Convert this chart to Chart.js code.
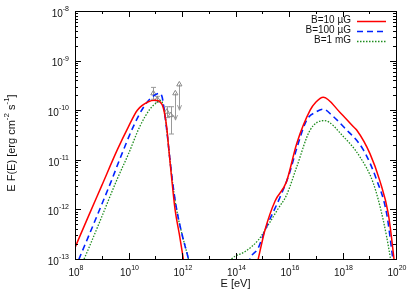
<!DOCTYPE html>
<html>
<head>
<meta charset="utf-8">
<script src="https://cdn.jsdelivr.net/npm/chart.js@4"></script>
<style>
  html, body { margin: 0; padding: 0; background: #fff; }
</style>
</head>
<body>
<canvas id="sedChart" width="415" height="290"></canvas>
<script>
// log10(E / eV) and log10(E F(E) / erg cm^-2 s^-1)
const redLowE = [8.0, 8.5, 9.0, 9.58, 10.0, 10.33, 10.74, 11.0, 11.18, 11.3, 11.43, 11.5, 11.6, 11.74, 11.9, 12.05, 12.2];
const redLowF = [-12.77, -12.14, -11.52, -10.8, -10.33, -10.0, -9.83, -9.8, -9.83, -9.95, -10.35, -10.75, -11.3, -12.0, -12.5, -13.0, -13.5];
const redHighE = [14.6, 14.85, 15.1, 15.48, 15.9, 16.29, 16.79, 17.0, 17.28, 17.9, 18.4, 18.53, 19.03, 19.4, 19.71, 19.9, 20.0];
const redHighF = [-13.6, -13.0, -12.42, -11.83, -11.45, -10.67, -10.0, -9.84, -9.74, -10.04, -10.33, -10.4, -10.88, -11.43, -12.08, -12.88, -13.4];

const blueLowE = [8.0, 8.15, 8.5, 9.0, 9.37, 9.68, 10.18, 10.55, 10.85, 11.15, 11.25, 11.35, 11.45, 11.55, 11.66, 11.8, 12.0, 12.24, 12.4];
const blueLowF = [-13.2, -13.0, -12.55, -11.9, -11.41, -10.98, -10.33, -9.95, -9.75, -9.66, -9.72, -10.05, -10.5, -11.0, -11.5, -12.0, -12.5, -13.0, -13.4];
const blueHighE = [14.3, 14.54, 14.85, 15.1, 15.66, 16.0, 16.3, 16.66, 17.0, 17.28, 17.6, 18.03, 18.78, 19.28, 19.65, 19.87, 20.0];
const blueHighF = [-13.5, -13.0, -12.78, -12.42, -11.76, -11.3, -10.75, -10.2, -10.04, -9.98, -10.1, -10.33, -10.8, -11.41, -12.08, -12.95, -13.5];

const greenLowE = [8.0, 8.34, 8.5, 9.0, 9.56, 10.0, 10.43, 10.8, 11.05, 11.2, 11.32, 11.4, 11.5, 11.6, 11.72, 11.85, 12.0, 12.24, 12.4];
const greenLowF = [-13.45, -13.0, -12.8, -12.15, -11.41, -10.88, -10.32, -9.98, -9.85, -9.8, -9.95, -10.25, -10.75, -11.25, -11.75, -12.15, -12.5, -13.0, -13.4];
const greenHighE = [13.6, 13.85, 14.36, 14.85, 15.1, 15.6, 15.91, 16.29, 16.79, 17.32, 18.03, 18.65, 19.15, 19.52, 19.78, 19.9];
const greenHighF = [-13.2, -13.0, -12.85, -12.62, -12.42, -11.98, -11.71, -11.14, -10.4, -10.21, -10.53, -10.94, -11.47, -12.21, -12.95, -13.4];

// measured points (gray triangles with error bars)
const obsE = [10.93, 11.08, 11.43, 11.58];
const obsF = [-9.66, -9.78, -10.03, -10.1];
const obsLo = [-9.78, -9.84, -10.15, -10.48];
const obsHi = [-9.54, -9.72, -9.93, -9.93];
// upper limits (arrows pointing down)
const ulE = [11.75, 11.9];
const ulF = [-9.66, -9.48];
const ulArrowTo = [-10.2, -10.0];

const seriesLabels = ["B=10 µG", "B=100 µG", "B=1 mG"];
const xDecades = [8, 9, 10, 11, 12, 13, 14, 15, 16, 17, 18, 19, 20];
const xLabelDecades = [8, 10, 12, 14, 16, 18, 20];
const yDecades = [-13, -12, -11, -10, -9, -8];

const FONT = "'Liberation Sans', Arial, sans-serif";

function toPoints(es, fs) {
  return es.map((e, i) => ({ x: 10 ** e, y: 10 ** fs[i] }));
}
const gap = { x: 1e13, y: null };

const curveStyle = [
  { color: "#ff0000", width: 1.5, dash: [] },
  { color: "#0022ff", width: 1.6, dash: [6, 4] },
  { color: "#1e8c1e", width: 1.3, dash: [1.5, 1.5] },
];

function curve(i, lowE, lowF, highE, highF) {
  return {
    label: seriesLabels[i],
    data: [...toPoints(lowE, lowF), gap, ...toPoints(highE, highF)],
    borderColor: curveStyle[i].color,
    borderWidth: curveStyle[i].width,
    borderDash: curveStyle[i].dash,
    pointRadius: 0,
    fill: false,
    spanGaps: false,
    cubicInterpolationMode: "monotone",
  };
}

function drawPow(ctx, exp, x, y, align) {
  ctx.font = "10px " + FONT;
  const wb = ctx.measureText("10").width;
  ctx.font = "7px " + FONT;
  const we = ctx.measureText(String(exp)).width;
  const total = wb + we;
  let x0 = align === "right" ? x - total : x - total / 2;
  ctx.textAlign = "left";
  ctx.textBaseline = "middle";
  ctx.font = "10px " + FONT;
  ctx.fillText("10", x0, y);
  ctx.font = "7px " + FONT;
  ctx.fillText(String(exp), x0 + wb, y - 5);
}

const errorBars = {
  id: "errorBars",
  beforeDatasetsDraw(chart) {
    const { ctx, scales } = chart;
    ctx.save();
    ctx.strokeStyle = "#999";
    ctx.lineWidth = 1;
    obsE.forEach((e, i) => {
      const px = Math.round(scales.x.getPixelForValue(10 ** e)) + 0.5;
      const top = scales.y.getPixelForValue(10 ** obsHi[i]);
      const bot = scales.y.getPixelForValue(10 ** obsLo[i]);
      ctx.beginPath();
      ctx.moveTo(px, top); ctx.lineTo(px, bot);
      ctx.moveTo(px - 2.5, top); ctx.lineTo(px + 2.5, top);
      ctx.moveTo(px - 2.5, bot); ctx.lineTo(px + 2.5, bot);
      ctx.stroke();
    });
    ulE.forEach((e, i) => {
      const px = Math.round(scales.x.getPixelForValue(10 ** e)) + 0.5;
      const top = scales.y.getPixelForValue(10 ** ulF[i]);
      const bot = scales.y.getPixelForValue(10 ** ulArrowTo[i]);
      ctx.beginPath();
      ctx.moveTo(px, top); ctx.lineTo(px, bot);
      ctx.moveTo(px - 2, bot - 5); ctx.lineTo(px, bot); ctx.lineTo(px + 2, bot - 5);
      ctx.stroke();
    });
    ctx.restore();
  },
};

const gnuplotAxes = {
  id: "gnuplotAxes",
  afterDraw(chart) {
    const { ctx, chartArea: a, scales } = chart;
    const xs = scales.x;
    const ys = scales.y;
    ctx.save();
    ctx.strokeStyle = "#000";
    ctx.lineWidth = 1;
    ctx.beginPath();
    xDecades.forEach((d) => {
      const px = Math.round(xs.getPixelForValue(10 ** d)) + 0.5;
      const len = d % 2 === 0 ? 6 : 3;
      ctx.moveTo(px, a.bottom); ctx.lineTo(px, a.bottom - len);
      ctx.moveTo(px, a.top); ctx.lineTo(px, a.top + len);
    });
    yDecades.forEach((d) => {
      for (let m = 1; m <= 9; m++) {
        const v = m * 10 ** d;
        if (v > 1e-8 * 1.0001) break;
        const py = Math.round(ys.getPixelForValue(v)) + 0.5;
        const len = m === 1 ? 6 : 3;
        ctx.moveTo(a.left, py); ctx.lineTo(a.left + len, py);
        ctx.moveTo(a.right, py); ctx.lineTo(a.right - len, py);
      }
    });
    ctx.stroke();
    ctx.strokeRect(Math.round(a.left) + 0.5, Math.round(a.top) + 0.5, Math.round(a.right - a.left), Math.round(a.bottom - a.top));

    ctx.fillStyle = "#111";
    yDecades.forEach((d) => {
      const py = ys.getPixelForValue(10 ** d);
      drawPow(ctx, d, a.left - 6, py + 3, "right");
    });
    xLabelDecades.forEach((d) => {
      const px = xs.getPixelForValue(10 ** d);
      drawPow(ctx, d, px + 1, a.bottom + 14, "center");
    });

    // axis titles
    ctx.font = "11px " + FONT;
    ctx.textAlign = "center";
    ctx.textBaseline = "middle";
    ctx.fillText("E [eV]", (a.left + a.right) / 2, 284);

    const parts = [["E F(E) [erg cm", false], ["-2", true], [" s", false], ["-1", true], ["]", false]];
    let total = 0;
    parts.forEach((p) => {
      ctx.font = (p[1] ? "8px " : "11px ") + FONT;
      total += ctx.measureText(p[0]).width;
    });
    ctx.save();
    ctx.translate(12, 143);
    ctx.rotate(-Math.PI / 2);
    ctx.textAlign = "left";
    let cx = -total / 2;
    parts.forEach((p) => {
      ctx.font = (p[1] ? "8px " : "11px ") + FONT;
      ctx.fillText(p[0], cx, p[1] ? -5 : 0);
      cx += ctx.measureText(p[0]).width;
    });
    ctx.restore();

    // legend, gnuplot style: text right aligned, sample line to the right
    ctx.font = "10px " + FONT;
    ctx.textAlign = "right";
    seriesLabels.forEach((label, i) => {
      const y = 20.5 + i * 10;
      ctx.fillStyle = "#111";
      ctx.fillText(label, 351, y);
      ctx.strokeStyle = curveStyle[i].color;
      ctx.lineWidth = curveStyle[i].width;
      ctx.setLineDash(curveStyle[i].dash);
      ctx.beginPath();
      ctx.moveTo(357, Math.round(y) + 0.5);
      ctx.lineTo(386, Math.round(y) + 0.5);
      ctx.stroke();
      ctx.setLineDash([]);
    });
    ctx.restore();
  },
};

const ctx = document.getElementById("sedChart").getContext("2d");
const sedChart = new Chart(ctx, {
  type: "line",
  data: {
    datasets: [
      curve(0, redLowE, redLowF, redHighE, redHighF),
      curve(1, blueLowE, blueLowF, blueHighE, blueHighF),
      curve(2, greenLowE, greenLowF, greenHighE, greenHighF),
      {
        type: "scatter",
        label: "data",
        data: toPoints(obsE.concat(ulE), obsF.concat(ulF)),
        pointStyle: "triangle",
        pointRadius: 3,
        borderColor: "#888",
        backgroundColor: "rgba(255,255,255,0)",
        borderWidth: 1,
        showLine: false,
      },
    ],
  },
  options: {
    responsive: false,
    animation: false,
    events: [],
    layout: { padding: { top: 11, right: 19, left: 0, bottom: 0 } },
    plugins: {
      legend: { display: false },
      tooltip: { enabled: false },
    },
    scales: {
      x: {
        type: "logarithmic",
        min: 1e8,
        max: 1e20,
        ticks: { display: false },
        grid: { display: false },
        border: { display: false },
        afterFit: (s) => { s.height = 31; },
      },
      y: {
        type: "logarithmic",
        min: 1e-13,
        max: 1e-8,
        ticks: { display: false },
        grid: { display: false },
        border: { display: false },
        afterFit: (s) => { s.width = 75; },
      },
    },
  },
  plugins: [errorBars, gnuplotAxes],
});
</script>
</body>
</html>
